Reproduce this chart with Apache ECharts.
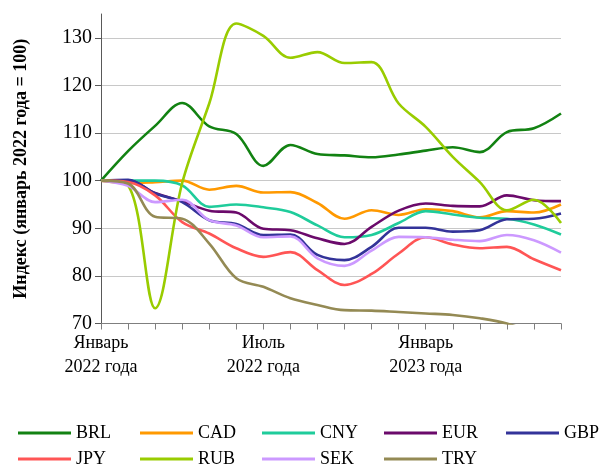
<!DOCTYPE html>
<html>
<head>
<meta charset="utf-8">
<script src="https://cdn.jsdelivr.net/npm/echarts@6/dist/echarts.min.js"></script>
<style>
html,body{margin:0;padding:0;background:#fff;}
#chart{width:604px;height:466px;}
</style>
</head>
<body>
<div id="chart"></div>
<script>
const tickLabels = ['Январь\n2022 года','','','','','','Июль\n2022 года','','','','','','Январь\n2023 года','','','','',''];
const BRL = [100,106.2,111.5,116.3,111.4,109.8,103.1,107.5,105.6,105.3,104.9,105.5,106.3,107.0,106.0,110.2,111.0,114.1];
const CAD = [100,99.5,99.7,100.0,98.1,98.9,97.5,97.6,95.3,92.0,93.8,92.8,94.0,93.6,92.3,93.6,93.3,95.0];
const CNY = [100,100.0,100.0,99.0,94.5,95.0,94.4,93.4,90.6,88.1,88.6,91.1,93.6,92.9,92.2,92.0,90.8,88.7];
const EUR = [100,100.1,97.4,95.7,93.7,93.3,89.9,89.6,87.9,86.7,90.3,93.7,95.2,94.7,94.6,96.9,95.9,95.7];
const GBP = [100,100.2,97.3,95.5,91.7,90.9,88.6,88.7,84.4,83.3,86.1,90.1,90.1,89.3,89.6,91.9,92.0,93.1];
const JPY = [100,99.7,96.9,91.3,88.9,85.8,84.0,85.0,81.2,78.1,80.4,84.7,88.1,86.6,85.8,86.1,83.5,81.2];
const RUB = [100,99.0,73.2,99.5,116.2,133.0,130.4,125.8,127.0,124.7,124.9,116.2,111.3,105.0,99.7,93.8,96.0,91.1];
const SEK = [100,98.9,95.5,96.0,91.7,90.6,88.1,88.3,83.7,82.1,85.3,88.2,88.1,87.6,87.3,88.6,87.5,84.9];
const TRY = [100,99.4,92.4,92.0,86.8,79.5,77.7,75.3,73.9,72.8,72.7,72.4,72.1,71.8,71.1,70.0,68.0,66.0];

const names = ['BRL','CAD','CNY','EUR','GBP','JPY','RUB','SEK','TRY'];
const values = [BRL,CAD,CNY,EUR,GBP,JPY,RUB,SEK,TRY];
const colors = ['#128212','#ff9900','#1fcc9b','#6b0a6b','#333399','#ff5555','#99cc00','#cc99ff','#948a54'];

const serif = '"Liberation Serif","Times New Roman",serif';
const chart = echarts.init(document.getElementById('chart'), null, {renderer:'canvas'});

const legendCommon = {
  left: 18, width: 620, orient: 'horizontal', icon: 'rect', padding: 0,
  itemWidth: 53, itemHeight: 3, itemGap: 24, itemTextGap: 5,
  textStyle: {fontFamily: serif, fontSize: 18, color: '#000', width: 40, lineHeight: 20},
  selectedMode: false
};

chart.setOption({
  animation: false,
  color: colors,
  grid: {left: 101, right: 43, top: 14, bottom: 142.5, containLabel: false},
  legend: [
    Object.assign({}, legendCommon, {top: 423, data: names.slice(0,5)}),
    Object.assign({}, legendCommon, {top: 449, data: names.slice(5)})
  ],
  xAxis: {
    type: 'category', data: tickLabels, boundaryGap: false,
    axisLine: {lineStyle: {color: '#7f7f7f', width: 1}},
    axisTick: {show: true, interval: 0, length: 6, lineStyle: {color: '#7f7f7f'}},
    axisLabel: {interval: 0, fontFamily: serif, fontSize: 18, color: '#000', lineHeight: 24, margin: 8},
    splitLine: {show: false}
  },
  yAxis: {
    type: 'value', min: 70, max: 135, interval: 10,
    name: 'Индекс (январь 2022 года = 100)', nameLocation: 'middle', nameGap: 71, nameRotate: 90,
    nameTextStyle: {fontFamily: serif, fontSize: 18, fontWeight: 'bold', color: '#000'},
    axisLine: {show: true, lineStyle: {color: '#595959', width: 1}},
    axisTick: {show: true, length: 6, lineStyle: {color: '#595959'}},
    axisLabel: {fontFamily: serif, fontSize: 20, color: '#000', margin: 9, showMaxLabel: false},
    splitLine: {show: true, showMinLine: false, showMaxLine: false, lineStyle: {color: '#c8c8c8', width: 1}}
  },
  series: names.map((n, i) => ({
    name: n, type: 'line', data: values[i], smooth: 0.35, symbol: 'none', clip: true,
    lineStyle: {width: 2.6, color: colors[i]}, itemStyle: {color: colors[i]}
  }))
});
</script>
</body>
</html>
